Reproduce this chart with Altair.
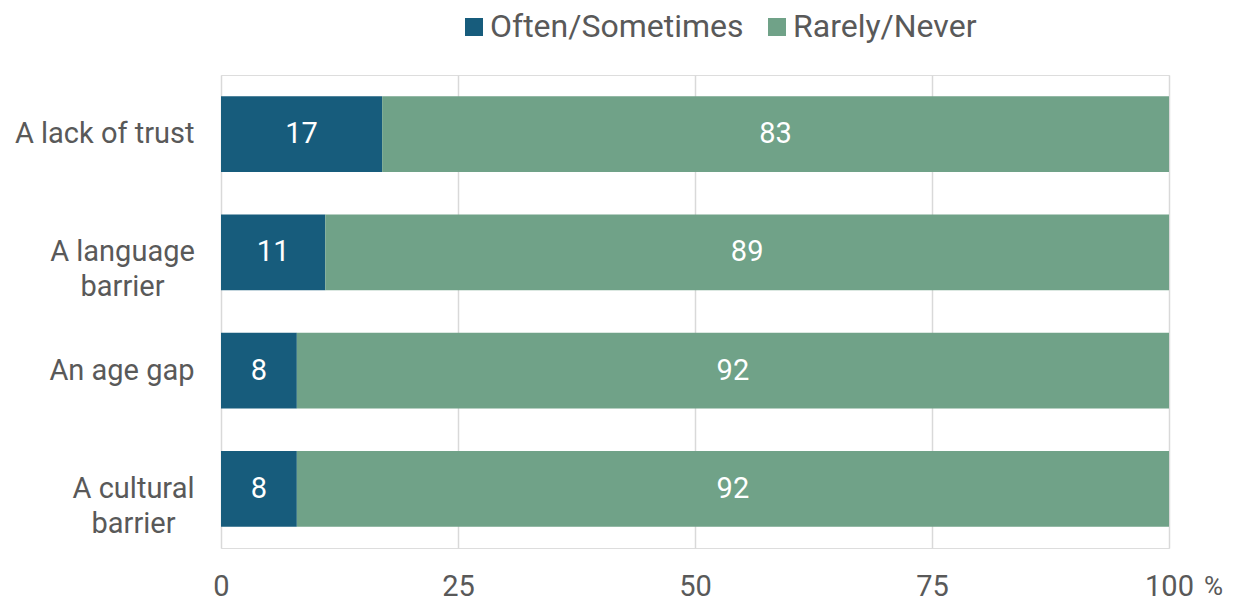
import altair as alt
import pandas as pd

categories = ["A lack of trust", "A language|barrier", "An age gap", "A cultural|barrier"]
series = ["Often/Sometimes", "Rarely/Never"]
often = [17, 11, 8, 8]
rarely = [83, 89, 92, 92]
colors = ["#175C7C", "#70A288"]
x_ticks = [0, 25, 50, 75, 100]

rows = []
for c, o, r in zip(categories, often, rarely):
    rows.append({"item": c, "series": series[0], "value": o, "ord": 0})
    rows.append({"item": c, "series": series[1], "value": r, "ord": 1})
df = pd.DataFrame(rows)

FONT = "Roboto"
TXT = "#595959"
FS = 29

base = alt.Chart(df).transform_stack(
    stack="value", groupby=["item"], as_=["v0", "v1"],
    sort=[alt.SortField("ord", order="ascending")]
).transform_calculate(mid="(datum.v0 + datum.v1) / 2")

label_align = {"condition": {"test": "indexof(datum.value, '|') >= 0", "value": "center"},
               "value": "right"}
label_pad = {"condition": [
    {"test": "datum.value == 'A language|barrier'", "value": 99},
    {"test": "datum.value == 'A cultural|barrier'", "value": 88},
], "value": 27}

y_enc = alt.Y("item:N", sort=categories, title=None,
              scale=alt.Scale(paddingInner=0.36, paddingOuter=0.18),
              axis=alt.Axis(labelExpr="split(datum.label, '|')", labelFont=FONT,
                            labelFontSize=FS, labelColor=TXT, labelPadding=label_pad,
                            labelAlign=label_align,
                            labelLineHeight=35, ticks=False, domain=False, grid=False,
                            labelLimit=400))

bars = base.mark_bar().encode(
    x=alt.X("v0:Q", title=None, scale=alt.Scale(domain=[0, 100], nice=False),
            axis=alt.Axis(values=x_ticks, labelFont=FONT, labelFontSize=FS,
                          labelColor=TXT, labelPadding=24, ticks=False, domain=False,
                          labelFlush=False,
                          grid=True, gridColor="#D9D9D9", gridWidth=1.5)),
    x2="v1:Q",
    y=y_enc,
    color=alt.Color("series:N", scale=alt.Scale(domain=series, range=colors),
                    legend=alt.Legend(title=None, orient="none", direction="horizontal",
                                      legendX=237, legendY=-64, symbolType="square",
                                      symbolSize=324, labelFont=FONT, labelFontSize=32,
                                      labelColor=TXT, columnPadding=17, symbolStrokeWidth=0,
                                      labelOffset=0, labelLimit=500)),
    order=alt.Order("ord:Q"),
)

labels = base.mark_text(font=FONT, fontSize=FS, color="white").encode(
    x="mid:Q",
    y=alt.Y("item:N", sort=categories),
    text=alt.Text("value:Q"),
)

pct = alt.Chart(pd.DataFrame({"x": [100], "t": ["%"]})).mark_text(
    font=FONT, fontSize=FS - 3, color=TXT, dx=35, align="left", baseline="middle"
).encode(x="x:Q", y=alt.value(512), text="t:N")

chart = alt.layer(bars, labels, pct).properties(
    width=948, height=473
).configure_view(stroke=None).configure(padding={"left": 6, "top": 3, "right": 0, "bottom": 0})

chart.save("out.html", embed_options={"renderer": "svg", "actions": False})
